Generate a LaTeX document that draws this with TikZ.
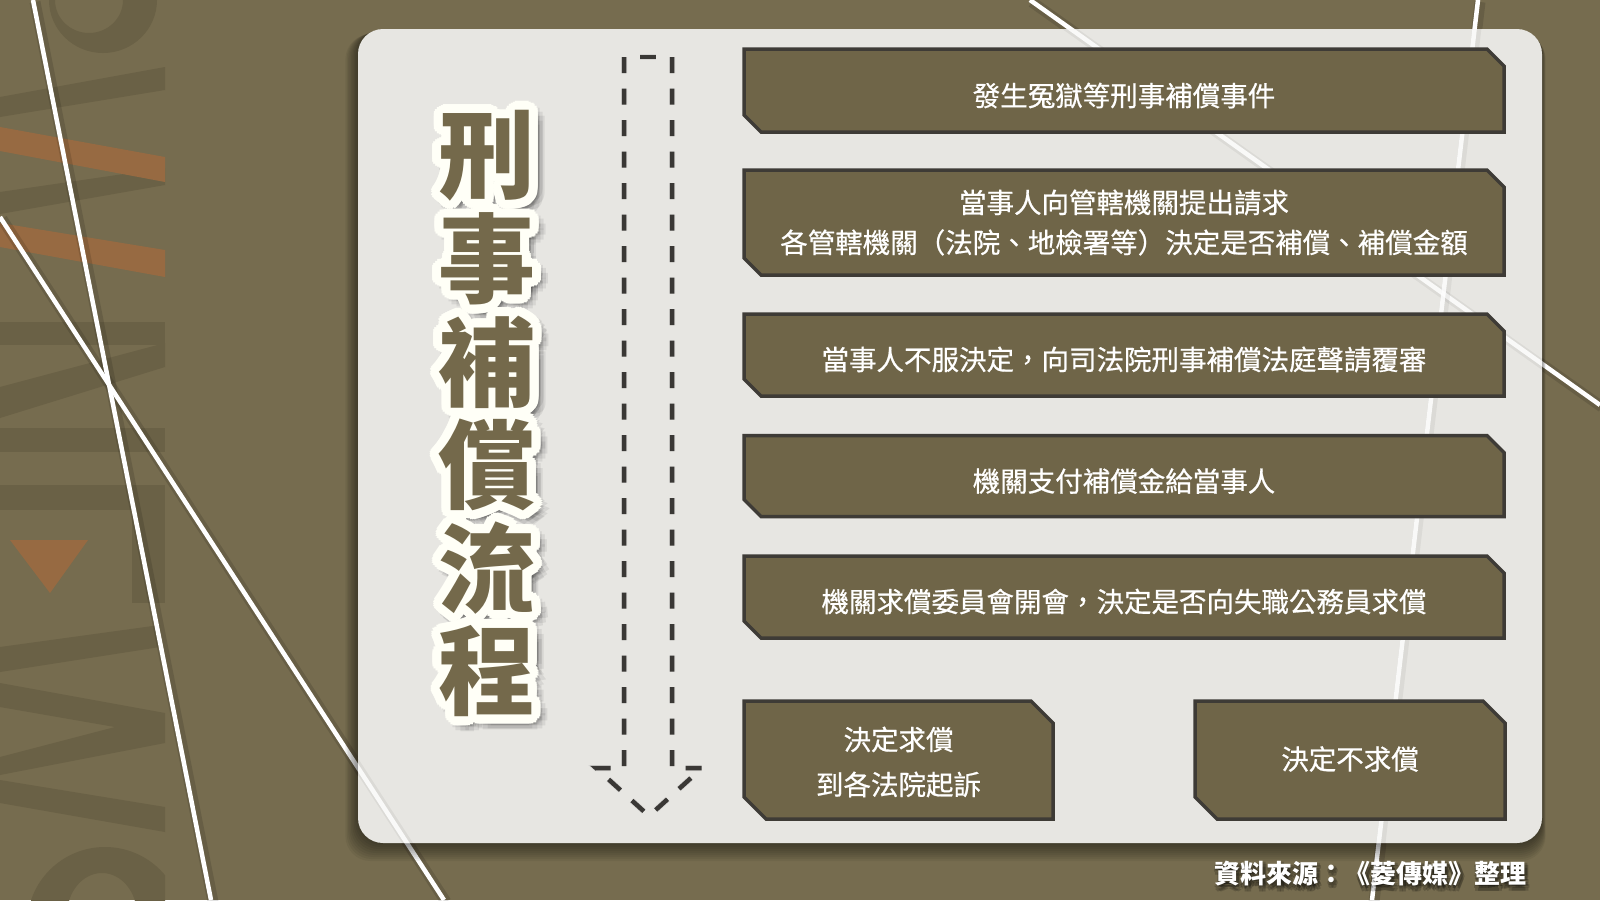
\documentclass[tikz,border=0pt]{standalone}
\usepackage{fontspec}
\newfontfamily\cjk{Noto Sans CJK TC}
\newfontfamily\cjkm[FakeBold=0.6]{Noto Sans CJK TC}
\definecolor{bgol}{HTML}{766C4F}
\definecolor{decodark}{HTML}{6A6146}
\definecolor{decoor}{HTML}{976A42}
\definecolor{panelc}{HTML}{E7E6E2}
\definecolor{boxfill}{HTML}{6F6548}
\definecolor{boxline}{HTML}{3E3B36}
\definecolor{titlefill}{HTML}{74694B}
\definecolor{dashc}{HTML}{3A3835}
\tikzset{
  boxbase/.style={rectangle, inner sep=0pt, outer sep=0pt},
  boxshp/.style={fill=boxfill, draw=boxline, line width=3.5pt, line join=miter},
  boxtext/.style={inner sep=0pt, text=white, font=\cjkm\fontsize{27.5}{40}\selectfont, align=center},
  wline/.style={white, line width=4.5pt},
  wshadow/.style={black, opacity=0.12, line width=11pt},
  dashline/.style={dashc, line width=4.5pt, dash pattern=on 16pt off 15.5pt},
  tfont/.style={font=\cjk\bfseries\fontsize{97}{97}\selectfont, inner sep=0pt},
  tfill/.style={tfont, text=titlefill},
  toutline/.style={tfont, text=white!97!yellow},
  tshadow/.style={tfont, text=black, text opacity=0.07},
  srcfont/.style={font=\cjk\bfseries\fontsize{26}{26}\selectfont, inner sep=0pt},
}
\newcommand\chamfbox[2]{%
  \filldraw[boxshp] (#1.north west) -- ([xshift=-#2]#1.north east) -- ([yshift=-#2]#1.north east)
    -- (#1.south east) -- ([xshift=#2]#1.south west) -- ([yshift=#2]#1.south west) -- cycle;}
\begin{document}
\begin{tikzpicture}[x=1pt,y=-1pt]
\useasboundingbox (0,0) rectangle (1600,900);
\fill[bgol] (0,0) rectangle (1600,900);
% ---- left decoration (faint letters) ----
\begin{scope}
\clip (0,0) rectangle (165,900);
\fill[decodark, even odd rule] (103,0) ellipse [x radius=54pt, y radius=53pt] (89,0) ellipse [x radius=34pt, y radius=33pt];
\fill[decodark] (0,97) -- (165,67) -- (165,90) -- (0,117) -- cycle;
\fill[decodark] (0,192) -- (165,168) -- (165,185) -- (0,214) -- cycle;
\fill[decoor] (0,127) -- (165,157) -- (165,182) -- (0,151) -- cycle;
\fill[decoor] (0,223) -- (165,250) -- (165,277) -- (0,247) -- cycle;
\fill[decodark] (0,322) rectangle (165,345);
\fill[decodark] (0,387) -- (165,343) -- (165,367) -- (0,418) -- cycle;
\fill[decodark] (0,428) rectangle (165,452);
\fill[decodark] (0,485) rectangle (165,510);
\fill[decodark] (132,485) rectangle (165,603);
\fill[decoor] (10,540) -- (88,540) -- (50,593) -- cycle;
\fill[decodark] (0,647) -- (160,625) -- (160,647) -- (0,672) -- cycle;
\fill[decodark] (0,683) -- (165,713) -- (165,743) -- (0,775) -- (0,757) -- (115,727) -- (0,707) -- cycle;
\fill[decodark] (0,780) -- (165,807) -- (165,832) -- (0,803) -- cycle;
\fill[decodark, even odd rule] (105,925) circle [radius=78pt] (102,915) ellipse [x radius=35pt, y radius=42pt];
\end{scope}
% ---- white lines ----
\coordinate (l1a) at (33,0);   \coordinate (l1b) at (211,900);
\coordinate (l2a) at (0,217);  \coordinate (l2b) at (444,900);
\coordinate (l3a) at (1030,0); \coordinate (l3b) at (1600,405);
\coordinate (l4a) at (1478,0); \coordinate (l4b) at (1372,900);
\foreach \p in {1,2,3,4}{
  \draw[wshadow] ([xshift=2pt,yshift=-2pt]l\p a) -- ([xshift=2pt,yshift=-2pt]l\p b);
}
\foreach \p in {1,2,3,4}{
  \draw[wline] (l\p a) -- (l\p b);
}
% ---- panel shadow and panel ----
\foreach \k in {1,...,9}{
  \fill[black, opacity=0.055, rounded corners=25pt] (358-\k*1.4,29+\k*0.6) rectangle (1542+\k*0.4,843+\k*2);
}
\fill[panelc, rounded corners=25pt] (358,29) rectangle (1542,843);
\begin{scope}
\clip[rounded corners=25pt] (358,29) rectangle (1542,843);
\foreach \p in {1,2,3,4}{
  \draw[black, opacity=0.05, line width=9pt] ([xshift=2pt,yshift=-2pt]l\p a) -- ([xshift=2pt,yshift=-2pt]l\p b);
  \draw[white, opacity=0.85, line width=4.5pt] (l\p a) -- (l\p b);
}
\end{scope}
% ---- dashed arrow ----
\coordinate (aTL) at (624,57);  \coordinate (aTR) at (672,57);
\coordinate (aBL) at (624,768); \coordinate (aBR) at (672,768);
\coordinate (aHL) at (596,768); \coordinate (aHR) at (702,768);
\coordinate (aTip) at (649,816);
\coordinate (aD1) at (640,57);  \coordinate (aD2) at (656,57);
\begin{scope}[xshift=5pt, yshift=-3pt]
\draw[dashline, dashc!30, opacity=0.5, line width=6pt] (aTL) -- (aBL) -- (aHL) -- (aTip);
\draw[dashline, dashc!30, opacity=0.5, line width=6pt] (aTR) -- (aBR) -- (aHR) -- (aTip);
\draw[dashc!30, opacity=0.5, line width=6pt] (aD1) -- (aD2);
\end{scope}
\draw[dashline] (aTL) -- (aBL) -- (aHL) -- (aTip);
\draw[dashline] (aTR) -- (aBR) -- (aHR) -- (aTip);
\draw[dashc, line width=4.5pt] (aD1) -- (aD2);
% ---- title ----
\foreach \c [count=\i] in {刑,事,補,償,流,程}{
  \pgfmathsetmacro\yy{156+103*(\i-1)}
  \foreach \a in {0,30,...,330}{
    \path (493,\yy+6) ++(\a:9.5pt) node[tshadow] (ts\i-\a) {\c};
    \path (493,\yy+6) ++(\a:4.5pt) node[tshadow] (tt\i-\a) {\c};
  }
  \foreach \a in {0,15,...,345}{
    \path (487,\yy) ++(\a:9pt) node[toutline] (to\i-\a) {\c};
    \path (487,\yy) ++(\a:4.5pt) node[toutline] (tp\i-\a) {\c};
  }
  \node[tfill] (t\i) at (487,\yy) {\c};
}
% ---- step boxes ----
\node[boxbase, minimum width=760pt, minimum height=83pt] (b1) at (1124,90.5) {};
\chamfbox{b1}{17pt}
\node[boxtext] (b1t) at ([yshift=-5pt]b1.center) {發生冤獄等刑事補償事件};
\node[boxbase, minimum width=760pt, minimum height=105pt] (b2) at (1124,222.5) {};
\chamfbox{b2}{17pt}
\node[boxtext] (b2t) at (b2.center) {當事人向管轄機關提出請求\\各管轄機關（法院、地檢署等）決定是否補償、補償金額};
\node[boxbase, minimum width=760pt, minimum height=82pt] (b3) at (1124,355) {};
\chamfbox{b3}{17pt}
\node[boxtext] (b3t) at ([yshift=-4.5pt]b3.center) {當事人不服決定，向司法院刑事補償法庭聲請覆審};
\node[boxbase, minimum width=760pt, minimum height=81pt] (b4) at (1124,476) {};
\chamfbox{b4}{17pt}
\node[boxtext] (b4t) at ([yshift=-5pt]b4.center) {機關支付補償金給當事人};
\node[boxbase, minimum width=760pt, minimum height=82pt] (b5) at (1124,597) {};
\chamfbox{b5}{17pt}
\node[boxtext] (b5t) at ([yshift=-4.5pt]b5.center) {機關求償委員會開會，決定是否向失職公務員求償};
\node[boxbase, minimum width=309pt, minimum height=118pt] (b6) at (898.5,760) {};
\chamfbox{b6}{22pt}
\node[boxtext, font=\cjkm\fontsize{27.5}{45}\selectfont] (b6t) at ([yshift=-2pt]b6.center) {決定求償\\到各法院起訴};
\node[boxbase, minimum width=310pt, minimum height=118pt] (b7) at (1350,760) {};
\chamfbox{b7}{22pt}
\node[boxtext] (b7t) at ([yshift=1pt]b7.center) {決定不求償};
% ---- source ----
\foreach \a in {0,60,...,300}{
  \path (1372,877) ++(\a:2.5pt) node[srcfont, text=black, text opacity=0.18] (ss\a) {資料來源：《菱傳媒》整理};
}
\node[srcfont, text=white] (src) at (1370,874) {資料來源：《菱傳媒》整理};
\end{tikzpicture}
\end{document}
